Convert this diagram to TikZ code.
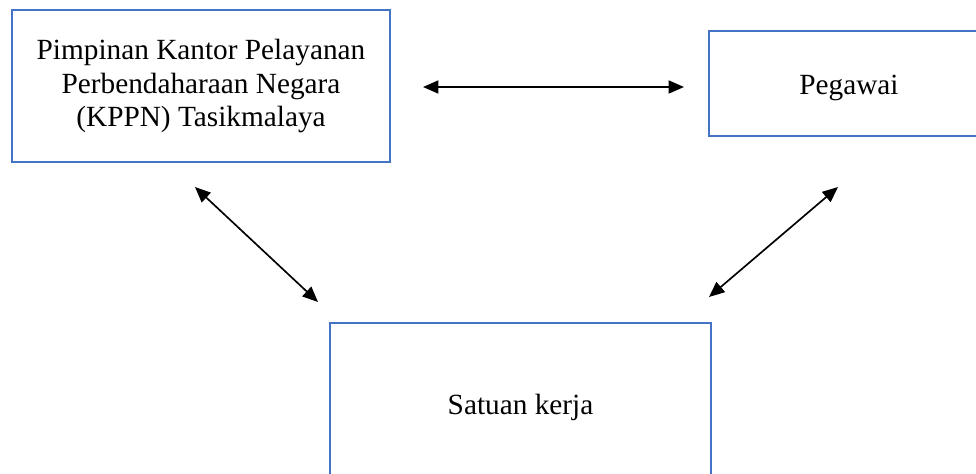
\documentclass[tikz,border=0pt]{standalone}
\usepackage{fontspec}
\setmainfont{Liberation Serif}
\usetikzlibrary{arrows.meta}

\definecolor{boxblue}{HTML}{4472C4}

\tikzset{
  unitbox/.style={draw=boxblue, line width=1pt, inner sep=0pt, align=center,
    font={\fontsize{12.3}{14.1}\selectfont},
    execute at begin node={\rule{0pt}{12pt}}},
  linkarrow/.style={line width=0.7pt, {Triangle[length=6.5pt,width=5.5pt]}-{Triangle[length=6.5pt,width=5.5pt]}}
}

\begin{document}
\begin{tikzpicture}[x=0.42pt, y=-0.42pt]

\useasboundingbox (0,0) rectangle (976,473);
\clip (0,0) rectangle (976,473);

\node [unitbox, minimum width=378*0.42pt, minimum height=152*0.42pt] (pimpinan)
 at (201, 86) {Pimpinan Kantor Pelayanan\\Perbendaharaan Negara\\(KPPN) Tasikmalaya};

\node [unitbox, minimum width=280*0.42pt, minimum height=105*0.42pt] (pegawai)
 at (849, 83.5) {Pegawai};

\node [unitbox, minimum width=381*0.42pt, minimum height=160*0.42pt] (satker)
 at (520.5, 403) {Satuan kerja};

% ujung panah
\coordinate (h1) at (423, 87);
\coordinate (h2) at (684, 87);
\coordinate (l1) at (195, 187);
\coordinate (l2) at (318, 302);
\coordinate (r1) at (838, 187);
\coordinate (r2) at (709, 297);

\draw [linkarrow] (h1) -- (h2);
\draw [linkarrow] (l1) -- (l2);
\draw [linkarrow] (r1) -- (r2);

\end{tikzpicture}
\end{document}
